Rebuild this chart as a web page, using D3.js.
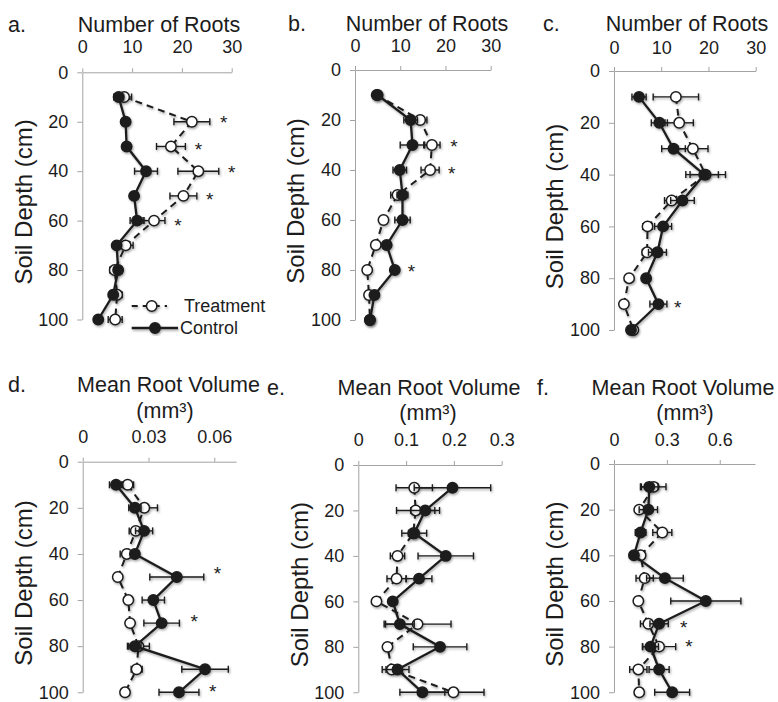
<!DOCTYPE html>
<html>
<head>
<meta charset="utf-8">
<script src="https://cdnjs.cloudflare.com/ajax/libs/d3/7.8.5/d3.min.js"></script>
<style>
  body { margin: 0; background: #fff; }
  svg { display: block; font-family: "Liberation Sans", Arial, sans-serif; }
</style>
</head>
<body>
<svg id="chart" width="778" height="702"></svg>
<script>
// soil depths (cm) of every sample row, and the depth axis ticks
const depths = [10, 20, 30, 40, 50, 60, 70, 80, 90, 100];
const depthTicks = [0, 20, 40, 60, 80, 100];

// x tick labels
const rootTicks = [0, 10, 20, 30];
const volTicksD = [0, 0.03, 0.06];
const volTicksE = [0, 0.1, 0.2, 0.3];
const volTicksF = [0, 0.3, 0.6];

// a. number of roots
const rootsATreat    = [8.4, 22.0, 17.8, 23.3, 20.3, 14.4, 8.7, 6.5, 7.0, 6.6];
const rootsATreatErr = [1.5, 3.6, 2.9, 4.1, 2.7, 2.2, 1.5, 1.0, 1.0, 1.4];
const rootsACtrl     = [7.3, 8.7, 8.9, 12.8, 10.4, 11.0, 6.9, 7.2, 6.2, 3.2];
const rootsACtrlErr  = [1.0, 0.6, 0.6, 2.3, 0.7, 1.4, 0.6, 0.8, 0.6, 0.3];
const starsA = [[18.6, 28.4], [29.4, 23.3], [38.8, 30.0], [49.6, 25.6], [60.0, 19.2]]; // [depth, value]

// b. number of roots
const rootsBTreat    = [4.8, 14.4, 17.0, 16.6, 9.4, 6.3, 4.6, 2.7, 3.1, 3.3];
const rootsBTreatErr = [0.5, 1.5, 1.8, 2.0, 1.5, 0.6, 0.6, 0.4, 0.5, 0.3];
const rootsBCtrl     = [5.0, 12.3, 12.7, 9.9, 10.5, 10.5, 7.0, 8.8, 4.3, 3.3];
const rootsBCtrlErr  = [0.5, 1.5, 2.7, 1.5, 1.2, 1.7, 0.6, 0.6, 0.6, 0.3];
const starsB = [[28.7, 21.9], [39.7, 21.4], [78.7, 12.5]];

// c. number of roots
const rootsCTreat    = [13.1, 13.8, 16.7, 19.4, 12.2, 7.1, 7.0, 3.2, 2.1, 4.1];
const rootsCTreatErr = [4.8, 3.0, 3.2, 4.2, 1.5, 1.0, 1.0, 0.3, 0.3, 0.3];
const rootsCCtrl     = [5.3, 9.6, 12.6, 19.1, 14.5, 10.4, 9.2, 6.8, 9.4, 3.6];
const rootsCCtrlErr  = [1.5, 1.7, 2.5, 3.0, 2.5, 1.8, 1.9, 0.5, 1.8, 0.5];
const starsC = [[89.7, 13.5]];

// d. mean root volume (mm3)
const volDTreat    = [0.0205, 0.0281, 0.0242, 0.0201, 0.0160, 0.0208, 0.0216, 0.0254, 0.0246, 0.0193];
const volDTreatErr = [0.0027, 0.0060, 0.0030, 0.0030, 0.0010, 0.0015, 0.0015, 0.0050, 0.0025, 0.0015];
const volDCtrl     = [0.0152, 0.0238, 0.0280, 0.0238, 0.0429, 0.0322, 0.0360, 0.0238, 0.0558, 0.0439];
const volDCtrlErr  = [0.0030, 0.0028, 0.0039, 0.0020, 0.0123, 0.0051, 0.0081, 0.0028, 0.0106, 0.0091];
const starsD = [[46.7, 0.0614], [67.5, 0.0509], [97.8, 0.0593]];

// e. mean root volume (mm3)
const volETreat    = [0.117, 0.120, 0.115, 0.082, 0.080, 0.038, 0.124, 0.061, 0.070, 0.199];
const volETreatErr = [0.038, 0.040, 0.010, 0.015, 0.020, 0.005, 0.070, 0.007, 0.020, 0.064];
const volECtrl     = [0.197, 0.140, 0.117, 0.183, 0.127, 0.072, 0.087, 0.171, 0.082, 0.134];
const volECtrlErr  = [0.080, 0.030, 0.026, 0.058, 0.027, 0.008, 0.030, 0.056, 0.024, 0.047];
const starsE = [];

// f. mean root volume (mm3)
const volFTreat    = [0.225, 0.143, 0.274, 0.151, 0.174, 0.138, 0.195, 0.256, 0.138, 0.143];
const volFTreatErr = [0.070, 0.020, 0.054, 0.010, 0.049, 0.015, 0.045, 0.094, 0.049, 0.020];
const volFCtrl     = [0.200, 0.195, 0.151, 0.113, 0.289, 0.521, 0.256, 0.207, 0.256, 0.330];
const volFCtrlErr  = [0.050, 0.052, 0.030, 0.010, 0.104, 0.199, 0.052, 0.045, 0.057, 0.099];
const starsF = [[69.8, 0.395], [77.8, 0.425]];

// panel layout (pixels) + which arrays go where
const panels = [
  { letter: "a.", letterX: 8, title: "Number of Roots", titleX: 159, titleY: 31.5, unitY: null, tickPad: 15,
    left: 82.3, right: 231.7, top: 72.3, bottom: 319.5, xMax: 30, xTicks: rootTicks,
    treat: rootsATreat, treatErr: rootsATreatErr, ctrl: rootsACtrl, ctrlErr: rootsACtrlErr, stars: starsA },
  { letter: "b.", letterX: 288, title: "Number of Roots", titleX: 427, titleY: 30.5, unitY: null, tickPad: 14,
    left: 355, right: 490.7, top: 70, bottom: 320, xMax: 30, xTicks: rootTicks,
    treat: rootsBTreat, treatErr: rootsBTreatErr, ctrl: rootsBCtrl, ctrlErr: rootsBCtrlErr, stars: starsB },
  { letter: "c.", letterX: 543, title: "Number of Roots", titleX: 687, titleY: 31, unitY: null, tickPad: 13,
    left: 614, right: 755.7, top: 71, bottom: 330, xMax: 30, xTicks: rootTicks,
    treat: rootsCTreat, treatErr: rootsCTreatErr, ctrl: rootsCCtrl, ctrlErr: rootsCCtrlErr, stars: starsC },
  { letter: "d.", letterX: 8, title: "Mean Root Volume", titleX: 168.5, titleY: 392, unitX: 165, unitY: 418, tickPad: 14.7,
    left: 82.7, right: 236.2, top: 461.7, bottom: 692.3, xMax: 0.07, xTicks: volTicksD,
    treat: volDTreat, treatErr: volDTreatErr, ctrl: volDCtrl, ctrlErr: volDCtrlErr, stars: starsD },
  { letter: "e.", letterX: 267, title: "Mean Root Volume", titleX: 429, titleY: 395, unitX: 428, unitY: 420, tickPad: 15,
    left: 358.3, right: 501.7, top: 465, bottom: 692.3, xMax: 0.3, xTicks: volTicksE,
    treat: volETreat, treatErr: volETreatErr, ctrl: volECtrl, ctrlErr: volECtrlErr, stars: starsE },
  { letter: "f.", letterX: 537, title: "Mean Root Volume", titleX: 683, titleY: 395, unitX: 685, unitY: 420, tickPad: 14,
    left: 614, right: 755, top: 464, bottom: 692.3, xMax: 0.8, xTicks: volTicksF,
    treat: volFTreat, treatErr: volFTreatErr, ctrl: volFCtrl, ctrlErr: volFCtrlErr, stars: starsF }
];

const ink = "#1c1c1c";
const axisGrey = "#a3a3a3";

const svg = d3.select("#chart");
svg.append("rect").attr("width", 778).attr("height", 702).attr("fill", "#fff");

// soft excel-like shadow under the series
const defs = svg.append("defs");
defs.append("filter")
  .attr("id", "shadow")
  .attr("x", "-20%").attr("y", "-20%").attr("width", "140%").attr("height", "140%")
  .append("feDropShadow")
  .attr("dx", 1).attr("dy", 1.5).attr("stdDeviation", 1.3)
  .attr("flood-color", "#000").attr("flood-opacity", 0.35);

function drawSeries(g, x, y, vals, errs, filled) {
  const s = g.append("g").attr("filter", "url(#shadow)");
  const rows = depths.map((d, i) => ({ d: d, v: vals[i], e: errs[i] }));

  // error bars
  const eb = s.append("g").attr("stroke", ink).attr("stroke-width", 1.4);
  rows.forEach(r => {
    const yy = y(r.d);
    eb.append("line").attr("x1", x(r.v - r.e)).attr("x2", x(r.v + r.e)).attr("y1", yy).attr("y2", yy);
    [r.v - r.e, r.v + r.e].forEach(v => {
      eb.append("line").attr("x1", x(v)).attr("x2", x(v)).attr("y1", yy - 3.5).attr("y2", yy + 3.5);
    });
  });

  const line = d3.line().x(r => x(r.v)).y(r => y(r.d));
  s.append("path")
    .datum(rows)
    .attr("d", line)
    .attr("fill", "none")
    .attr("stroke", ink)
    .attr("stroke-width", filled ? 2.3 : 2)
    .attr("stroke-dasharray", filled ? null : "7,5");

  s.selectAll("circle")
    .data(rows)
    .enter().append("circle")
    .attr("cx", r => x(r.v))
    .attr("cy", r => y(r.d))
    .attr("r", 5.2)
    .attr("fill", filled ? ink : "#fff")
    .attr("stroke", ink)
    .attr("stroke-width", 1.5);
}

function drawPanel(p) {
  const x = d3.scaleLinear().domain([0, p.xMax]).range([p.left, p.right]);
  const y = d3.scaleLinear().domain([0, 100]).range([p.top, p.bottom]);
  const g = svg.append("g");

  // value axis along the top
  const xa = g.append("g")
    .attr("transform", "translate(0," + p.top + ")")
    .call(d3.axisTop(x).tickValues(p.xTicks).tickSize(4).tickSizeOuter(0).tickPadding(p.tickPad).tickFormat(d => String(d)));
  xa.attr("font-size", 18).attr("font-family", null);

  // depth axis
  const ya = g.append("g")
    .attr("transform", "translate(" + p.left + ",0)")
    .call(d3.axisLeft(y).tickValues(depthTicks).tickSize(5).tickSizeOuter(0).tickPadding(9));
  ya.attr("font-size", 18).attr("font-family", null);

  [xa, ya].forEach(a => {
    a.select(".domain").attr("stroke", axisGrey);
    a.selectAll(".tick line").attr("stroke", axisGrey);
    a.selectAll(".tick text").attr("fill", ink);
  });

  // titles
  g.append("text")
    .attr("x", p.letterX).attr("y", p.titleY)
    .attr("font-size", 21.5).attr("fill", ink)
    .text(p.letter);
  g.append("text")
    .attr("x", p.titleX).attr("y", p.titleY)
    .attr("text-anchor", "middle")
    .attr("font-size", 21.5).attr("fill", ink)
    .text(p.title);
  if (p.unitY) {
    g.append("text")
      .attr("x", p.unitX).attr("y", p.unitY)
      .attr("text-anchor", "middle")
      .attr("font-size", 21.5).attr("fill", ink)
      .text("(mm³)");
  }

  g.append("text")
    .attr("transform", "translate(" + (p.left - 59) + "," + ((p.top + p.bottom) / 2 + 6) + ") rotate(-90)")
    .attr("text-anchor", "middle")
    .attr("dy", "0.35em")
    .attr("font-size", 24).attr("fill", ink)
    .text("Soil Depth (cm)");

  drawSeries(g, x, y, p.treat, p.treatErr, false);
  drawSeries(g, x, y, p.ctrl, p.ctrlErr, true);

  // significance marks
  g.selectAll(".star")
    .data(p.stars)
    .enter().append("text")
    .attr("class", "star")
    .attr("x", s => x(s[1]))
    .attr("y", s => y(s[0]))
    .attr("dy", "0.58em")
    .attr("text-anchor", "middle")
    .attr("font-size", 19).attr("fill", ink)
    .text("*");
}

panels.forEach(drawPanel);

// legend inside panel a
const legend = svg.append("g").attr("font-size", 18).attr("fill", ink);
const lt = legend.append("g").attr("filter", "url(#shadow)");
lt.append("line").attr("x1", 131.7).attr("x2", 167).attr("y1", 306).attr("y2", 306)
  .attr("stroke", ink).attr("stroke-width", 2).attr("stroke-dasharray", "6,5");
lt.append("circle").attr("cx", 151.7).attr("cy", 306).attr("r", 5.2)
  .attr("fill", "#fff").attr("stroke", ink).attr("stroke-width", 1.5);
legend.append("text").attr("x", 184).attr("y", 306).attr("dy", "0.35em").text("Treatment");

const lc = legend.append("g").attr("filter", "url(#shadow)");
lc.append("line").attr("x1", 131.7).attr("x2", 178).attr("y1", 328).attr("y2", 328)
  .attr("stroke", ink).attr("stroke-width", 2.3);
lc.append("circle").attr("cx", 155).attr("cy", 328).attr("r", 5.2)
  .attr("fill", ink).attr("stroke", ink).attr("stroke-width", 1.5);
legend.append("text").attr("x", 180).attr("y", 328).attr("dy", "0.35em").text("Control");
</script>
</body>
</html>
